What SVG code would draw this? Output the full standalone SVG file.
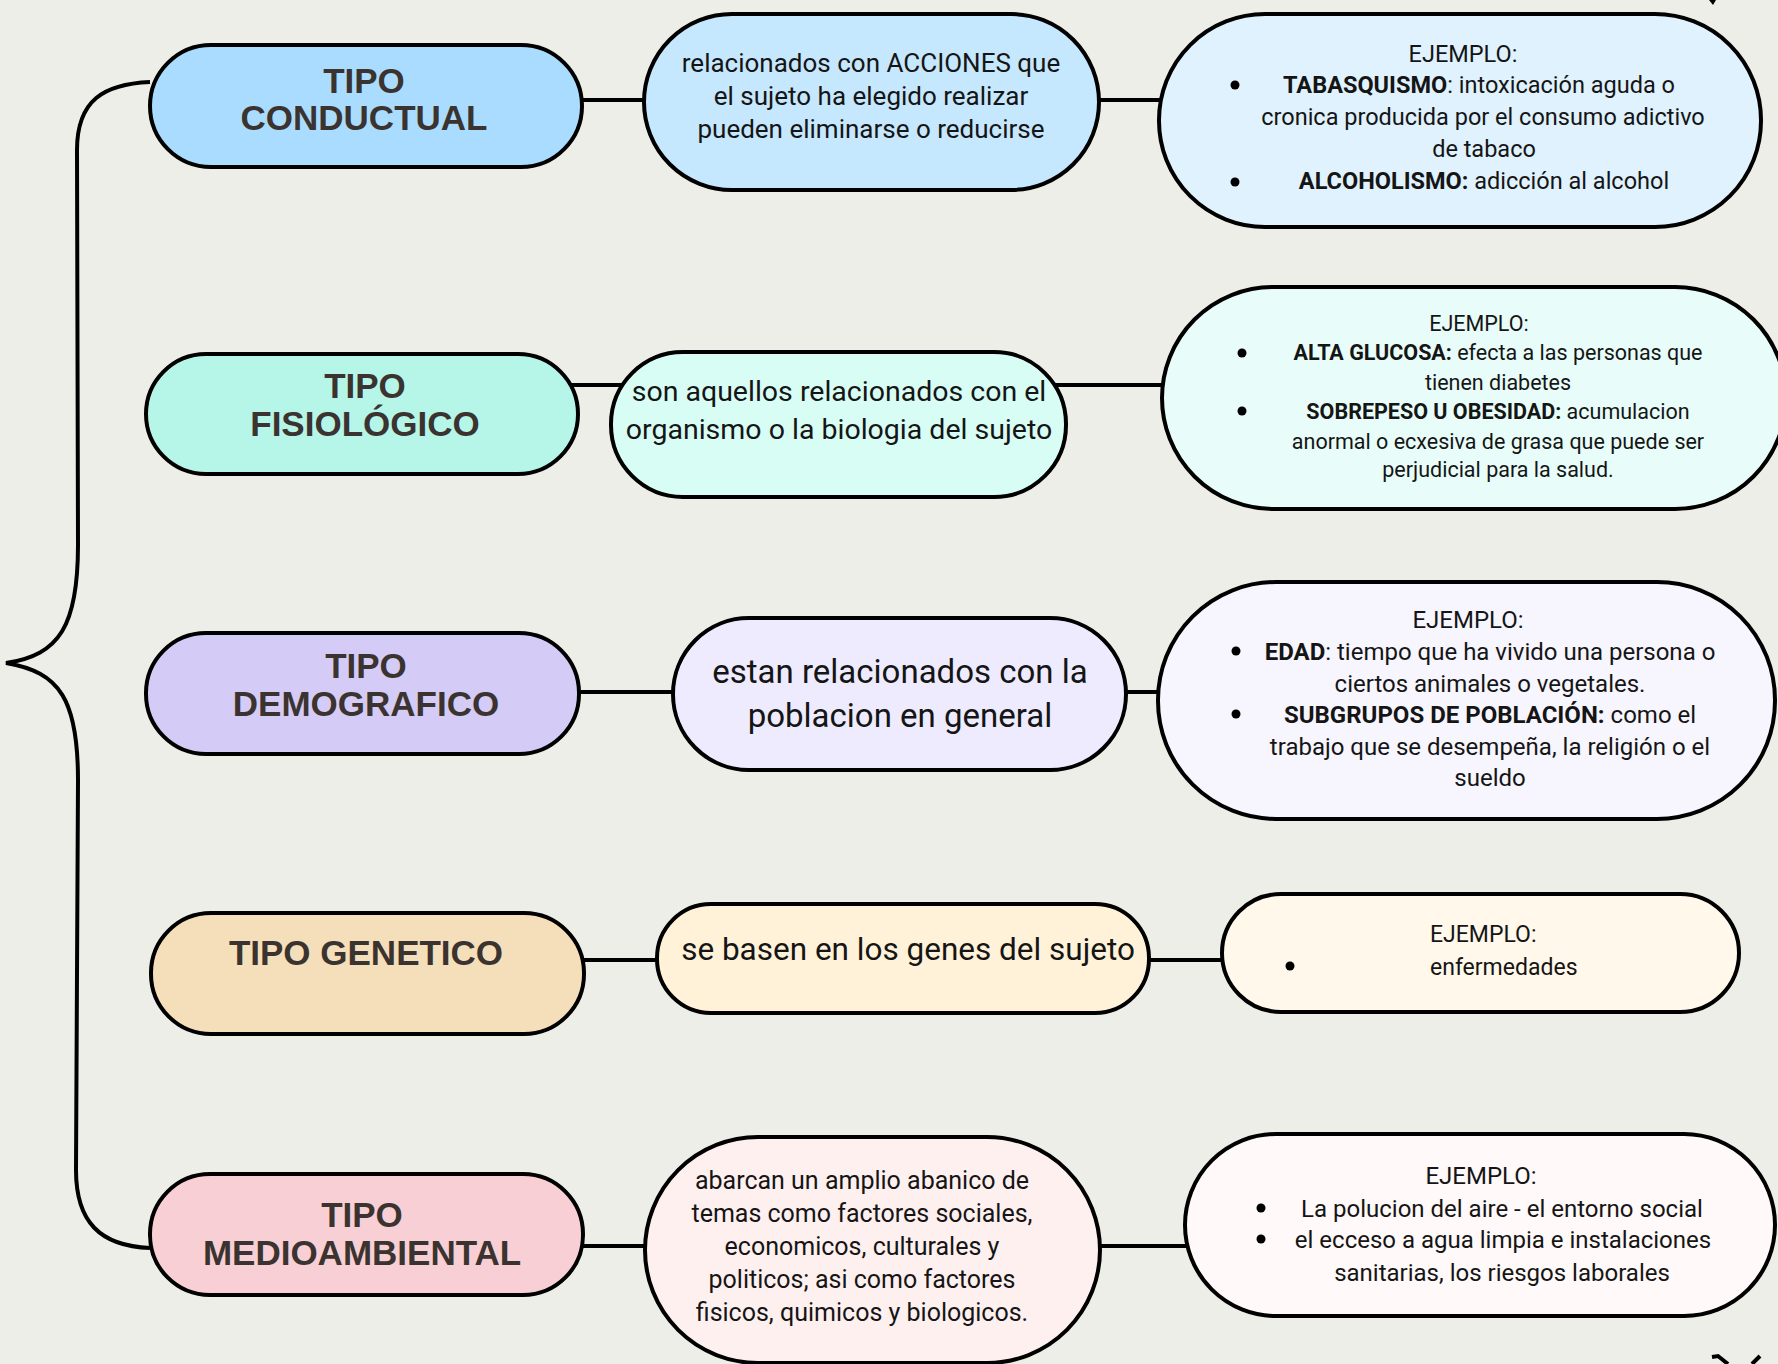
<svg xmlns="http://www.w3.org/2000/svg" width="1778" height="1364" viewBox="0 0 1778 1364">
<style>
.bg{fill:#eeeee8}
.node{stroke:#000;stroke-width:4}
.conn{stroke:#000;stroke-width:4;fill:none}
.t{font-family:'Liberation Sans',Arial,sans-serif;font-weight:bold;font-size:35px;fill:#3b3330;text-anchor:middle}
.b{font-family:Roboto,'Noto Sans',sans-serif;fill:#151515;text-anchor:middle}
.l{text-anchor:start}
.bo{font-weight:bold}
.dot{fill:#000}
</style>
<rect class="bg" x="0" y="0" width="1778" height="1364"/>
<g id="connectors">
<path class="conn" d="M150,82 C104,84 77,100 77,150 L78,545 C78,625 60,655 6,663 C60,672 78,700 78,780 L76,1170 C76,1222 100,1246 150,1248"/>
<line class="conn" x1="570" y1="100" x2="660" y2="100"/>
<line class="conn" x1="1090" y1="100" x2="1170" y2="100"/>
<line class="conn" x1="570" y1="385" x2="640" y2="385"/>
<line class="conn" x1="1050" y1="385" x2="1175" y2="385"/>
<line class="conn" x1="570" y1="692" x2="690" y2="692"/>
<line class="conn" x1="1110" y1="692" x2="1170" y2="692"/>
<line class="conn" x1="570" y1="960" x2="670" y2="960"/>
<line class="conn" x1="1140" y1="960" x2="1235" y2="960"/>
<line class="conn" x1="570" y1="1246" x2="660" y2="1246"/>
<line class="conn" x1="1090" y1="1246" x2="1200" y2="1246"/>
</g>
<g id="tipo-conductual">
<rect class="node" x="150" y="45" width="432" height="122" rx="61" fill="#a9dcfe"/>
<text class="t" x="364" y="93">TIPO</text>
<text class="t" x="364" y="130">CONDUCTUAL</text>
</g>
<g id="conductual-desc">
<rect class="node" x="644" y="14" width="455" height="176" rx="88" fill="#c6e8fe"/>
<text class="b" font-size="26" x="871" y="72">relacionados con ACCIONES que</text>
<text class="b" font-size="26" x="871" y="105">el sujeto ha elegido realizar</text>
<text class="b" font-size="26" x="871" y="138">pueden eliminarse o reducirse</text>
</g>
<g id="conductual-ejemplo">
<rect class="node" x="1159" y="14" width="602" height="213" rx="106" fill="#dff2fe"/>
<text class="b" font-size="23.5" x="1463" y="62">EJEMPLO:</text>
<circle class="dot" cx="1235" cy="85" r="4.5"/>
<text class="b" font-size="23.5" x="1479" y="93"><tspan class="bo">TABASQUISMO</tspan>: intoxicación aguda o</text>
<text class="b" font-size="23.5" x="1483" y="125">cronica producida por el consumo adictivo</text>
<text class="b" font-size="23.5" x="1484" y="157">de tabaco</text>
<circle class="dot" cx="1235" cy="182" r="4.5"/>
<text class="b" font-size="23.5" x="1484" y="189"><tspan class="bo">ALCOHOLISMO:</tspan> adicción al alcohol</text>
</g>
<g id="tipo-fisiologico">
<rect class="node" x="146" y="354" width="432" height="120" rx="60" fill="#b5f6e9"/>
<text class="t" x="365" y="398">TIPO</text>
<text class="t" x="365" y="436">FISIOLÓGICO</text>
</g>
<g id="fisiologico-desc">
<rect class="node" x="611" y="352" width="455" height="145" rx="72" fill="#d8fdf5"/>
<text class="b" font-size="28.5" x="839" y="401">son aquellos relacionados con el</text>
<text class="b" font-size="28.5" x="839" y="439">organismo o la biologia del sujeto</text>
</g>
<g id="fisiologico-ejemplo">
<rect class="node" x="1162" y="287" width="624" height="222" rx="111" fill="#e8fdf9"/>
<text class="b" font-size="21.5" x="1479" y="331">EJEMPLO:</text>
<circle class="dot" cx="1242" cy="353" r="4.5"/>
<text class="b" font-size="21.5" x="1498" y="360"><tspan class="bo">ALTA GLUCOSA:</tspan> efecta a las personas que</text>
<text class="b" font-size="21.5" x="1498" y="390">tienen diabetes</text>
<circle class="dot" cx="1242" cy="411" r="4.5"/>
<text class="b" font-size="21.5" x="1498" y="419"><tspan class="bo">SOBREPESO U OBESIDAD:</tspan> acumulacion</text>
<text class="b" font-size="21.5" x="1498" y="449">anormal o ecxesiva de grasa que puede ser</text>
<text class="b" font-size="21.5" x="1498" y="477">perjudicial para la salud.</text>
</g>
<g id="tipo-demografico">
<rect class="node" x="146" y="633" width="433" height="121" rx="60" fill="#d4cbf6"/>
<text class="t" x="366" y="678">TIPO</text>
<text class="t" x="366" y="716">DEMOGRAFICO</text>
</g>
<g id="demografico-desc">
<rect class="node" x="673" y="618" width="453" height="152" rx="76" fill="#eeebfe"/>
<text class="b" font-size="33" x="900" y="683">estan relacionados con la</text>
<text class="b" font-size="33" x="900" y="727">poblacion en general</text>
</g>
<g id="demografico-ejemplo">
<rect class="node" x="1158" y="582" width="617" height="237" rx="118" fill="#f7f6fe"/>
<text class="b" font-size="24" x="1468" y="628">EJEMPLO:</text>
<circle class="dot" cx="1236" cy="651" r="4.5"/>
<text class="b" font-size="24" x="1490" y="660"><tspan class="bo">EDAD</tspan>: tiempo que ha vivido una persona o</text>
<text class="b" font-size="24" x="1490" y="692">ciertos animales o vegetales.</text>
<circle class="dot" cx="1236" cy="714" r="4.5"/>
<text class="b" font-size="24" x="1490" y="723"><tspan class="bo">SUBGRUPOS DE POBLACIÓN:</tspan> como el</text>
<text class="b" font-size="24" x="1490" y="755">trabajo que se desempeña, la religión o el</text>
<text class="b" font-size="24" x="1490" y="786">sueldo</text>
</g>
<g id="tipo-genetico">
<rect class="node" x="151" y="913" width="433" height="121" rx="60" fill="#f5dfba"/>
<text class="t" x="366" y="965">TIPO GENETICO</text>
</g>
<g id="genetico-desc">
<rect class="node" x="657" y="904" width="492" height="109" rx="54" fill="#fff2d9"/>
<text class="b" font-size="31.5" x="908" y="960">se basen en los genes del sujeto</text>
</g>
<g id="genetico-ejemplo">
<rect class="node" x="1222" y="894" width="517" height="118" rx="59" fill="#fff8eb"/>
<text class="b l" font-size="23" x="1430" y="942">EJEMPLO:</text>
<circle class="dot" cx="1290" cy="966" r="4.5"/>
<text class="b l" font-size="23" x="1430" y="975">enfermedades</text>
</g>
<g id="tipo-medioambiental">
<rect class="node" x="150" y="1174" width="433" height="121" rx="60" fill="#f8cfd5"/>
<text class="t" x="362" y="1227">TIPO</text>
<text class="t" x="362" y="1265">MEDIOAMBIENTAL</text>
</g>
<g id="medioambiental-desc">
<rect class="node" x="645" y="1137" width="455" height="226" rx="113" fill="#fff0f0"/>
<text class="b" font-size="25" x="862" y="1189">abarcan un amplio abanico de</text>
<text class="b" font-size="25" x="862" y="1222">temas como factores sociales,</text>
<text class="b" font-size="25" x="862" y="1255">economicos, culturales y</text>
<text class="b" font-size="25" x="862" y="1288">politicos; asi como factores</text>
<text class="b" font-size="25" x="862" y="1321">fisicos, quimicos y biologicos.</text>
</g>
<g id="medioambiental-ejemplo">
<rect class="node" x="1185" y="1134" width="590" height="182" rx="91" fill="#fff9f9"/>
<text class="b" font-size="24" x="1481" y="1184">EJEMPLO:</text>
<circle class="dot" cx="1261" cy="1208" r="4.5"/>
<text class="b" font-size="24" x="1502" y="1217">La polucion del aire - el entorno social</text>
<circle class="dot" cx="1261" cy="1239" r="4.5"/>
<text class="b" font-size="24" x="1503" y="1248">el ecceso a agua limpia e instalaciones</text>
<text class="b" font-size="24" x="1502" y="1281">sanitarias, los riesgos laborales</text>
</g>
<g id="decor">
<path d="M1709,0 L1716,0 L1713,5 Z" fill="#000"/>
<path class="conn" d="M1712,1357 L1718,1356 L1728,1364 M1760,1356 L1752,1364" stroke-width="3.5"/>
</g>
</svg>
